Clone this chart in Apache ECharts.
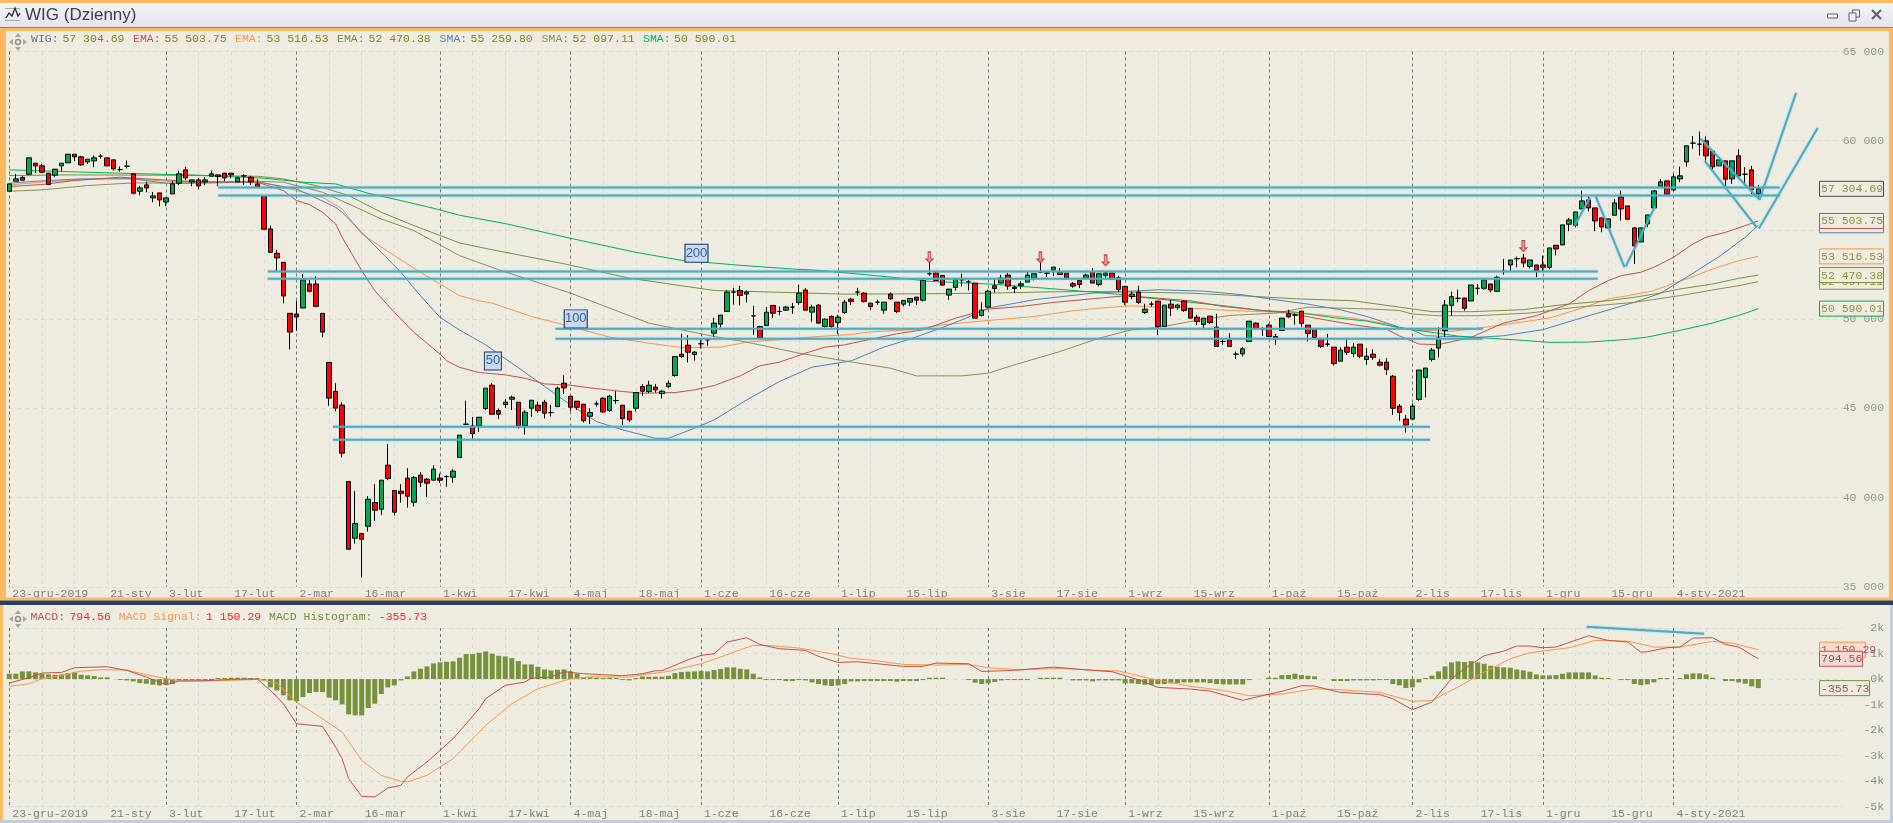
<!DOCTYPE html>
<html><head><meta charset="utf-8"><title>WIG (Dzienny)</title>
<style>html,body{margin:0;padding:0;background:#EEECE1;overflow:hidden}#c{width:1893px;height:823px}</style>
<script src="https://cdn.jsdelivr.net/npm/echarts@6/dist/echarts.min.js"></script>
</head><body><div id="c"></div>
<script>
const opens=[57170,57731,57936,58123,58740,58591,58179,58067,58591,58759,
59245,59096,58815,58871,59133,59040,58927,58385,58572,58142,
57170,57525,56796,57076,56571,57020,57618,58366,57693,57805,
57693,58011,58086,58179,58179,57693,58030,57955,57581,56870,
55056,53691,53186,50325,50288,50625,51971,51971,50325,47576,
45950,45183,40901,37722,37983,38395,39723,39348,41817,40396,
40358,41088,39741,41256,41031,40975,41088,41181,41144,42247,
44110,44016,44016,44989,46298,44877,45213,45512,45344,44035,
45008,45176,45344,44764,45101,46410,45681,45400,45232,44559,
45251,45569,44877,45438,45176,44839,45008,46223,45942,46186,
45830,46223,46840,48037,48542,48018,48617,48841,49215,49720,
50431,51515,51609,51403,50187,49589,49645,50767,50431,50505,
50674,50935,51627,50393,50786,49589,50150,49813,50374,51122,
51515,51459,50898,50954,50505,51403,50954,50842,50954,51235,
51066,52544,52581,52450,51347,51777,52207,52095,52020,50206,
50674,51870,52020,52469,51796,51889,52076,52301,52637,52581,
52768,52656,52581,51983,52170,52319,52656,51945,52450,52581,
52319,51833,51272,51515,50374,50842,51010,49589,50842,50655,
51010,50599,50113,49701,50169,49552,48748,48822,48037,48056,
48748,49776,49421,49664,48878,49365,50300,50225,50449,49664,
49402,48897,48598,48430,47644,48430,48074,48598,47738,48037,
47588,47588,46802,45127,44398,44398,45501,46735,47745,48381,
49353,50774,51167,51186,51017,51728,51728,51971,51560,52681,
53037,53392,53430,52962,53037,53037,52906,54140,54159,55318,
55262,56179,56683,56235,55673,55113,55823,56852,56347,55113,
54327,55337,56235,57450,57749,57244,57862,58815,59862,59806,
59993,59414,58591,58871,57861,59152,58123,58366,57020];
const closes=[57581,57862,57787,59040,58591,58236,57544,58404,58740,59245,
59096,58647,58965,59040,59133,58591,58422,58385,58572,57057,
57357,57357,56908,56683,56796,57581,58142,57918,57805,57469,
57805,58142,57992,57918,58086,57918,58030,57693,57413,55038,
53747,53430,51298,49278,50120,52195,51560,50718,49278,45576,
45014,42490,37104,38544,37665,39910,39292,40975,41069,39180,
40227,40078,41125,40863,40807,41592,40975,41181,41480,43500,
44110,43586,44503,46130,44671,44671,45344,45625,44016,44783,
45456,44877,44727,44764,46130,46148,45064,45064,44316,44764,
45251,44802,45681,45438,44428,44353,45886,45961,46298,46036,
45961,46410,47906,47906,48149,48149,48617,48841,49776,50225,
51515,51515,51328,51515,50187,48935,50393,50337,50431,50674,
50674,51459,50505,50674,49776,50000,49589,50113,50954,50991,
51515,50991,50711,50954,50954,51141,50431,51048,51160,51066,
52170,52544,52170,51908,51683,52244,52207,52095,50057,50505,
51571,51721,52301,51852,51721,51983,52469,52544,52637,52581,
52918,52506,52301,51852,51945,52469,52020,52544,52581,52244,
51665,50954,51403,50935,50561,50842,49589,50786,50618,50786,
50487,50057,49870,50057,49813,48467,48748,48467,48037,48336,
49888,49496,49421,49028,49028,50057,50131,50225,49757,49196,
48972,48467,48598,47513,48261,48149,48430,47925,47925,47850,
47420,47177,45008,44771,44061,45127,47146,47259,48268,48942,
50793,51260,51167,50606,51915,51728,52195,51634,52345,52681,
53317,53392,53149,53317,52681,52906,53991,53935,55281,55561,
56010,56627,56235,55505,55169,55618,56515,56178,55599,54103,
55113,55842,57188,57693,57001,57974,58030,59713,59862,59806,
59152,58535,58927,57843,58871,58030,58123,57244,57304.69];
const lows=[57170,57731,57787,58067,58179,58179,57525,57955,58292,58759,
58853,58591,58703,58516,59002,58591,58329,58273,58441,57001,
56945,57113,56553,56328,56328,57020,57506,57805,57450,57282,
57506,58011,57450,57731,57899,57693,57506,57525,57413,55038,
53747,52682,50886,48306,49353,50625,51504,50662,48979,45145,
44828,42247,37104,37422,35515,38096,38694,39031,40975,38993,
39722,39442,39498,40601,40040,40975,40826,40601,40826,42247,
44073,43306,43680,44914,44671,44409,45026,44914,43867,43530,
44540,44764,44428,44540,45101,45812,44839,44914,44203,44129,
45101,44746,44802,45251,44054,44241,44820,45699,45849,45886,
45550,46130,46784,47831,47569,47682,48355,48504,49028,49533,
50431,50805,50767,50935,49122,48935,49645,50075,50225,50468,
50300,50805,50505,49851,49776,49533,49533,49159,50300,50805,
51309,50935,50524,50805,50300,51085,50337,50711,50748,50786,
50991,52431,52170,51908,51085,51609,51833,51609,50057,50150,
50618,51496,52020,51646,51459,51683,52076,52170,52581,52357,
52431,52469,52207,51758,51740,52244,52020,51833,52319,52244,
51515,50805,51122,50842,50300,50692,49122,49589,50187,50524,
50412,50057,49683,49402,49739,48467,48561,48467,47775,47906,
48748,49496,49065,49028,48561,49365,50057,49683,49552,48748,
48972,48392,48467,47401,47644,48000,47869,47813,47439,47719,
47345,46878,44634,44304,43649,44360,45426,45613,47633,47857,
49016,50194,50942,50475,51017,51373,51653,51503,51522,52495,
52719,52906,52906,52850,52345,52681,52794,53579,54159,54926,
55150,56179,56048,54926,54869,55094,55823,55524,55561,53093,
54327,55150,56235,57450,56945,57170,57674,58553,59545,59170,
58797,58292,58591,57450,57581,57955,57487,57020,56740];
const highs=[57581,58142,58030,59040,58740,58703,58179,58404,58740,59245,
59245,59152,58965,59171,59245,59040,58927,58553,58890,58142,
57469,57712,57132,57076,56796,57731,58329,58535,57805,57918,
57955,58329,58086,58179,58179,57992,58123,58030,57843,56870,
55243,53878,53186,50325,51036,52532,52195,52382,50325,47576,
46417,45332,40901,40377,37983,40078,40751,40975,42995,40396,
40751,41649,41200,41424,41088,41817,41349,41250,41592,43500,
45419,44521,44503,46130,46429,44989,45531,45718,45344,44895,
45456,45382,45475,45195,46223,46859,45681,45400,45232,45008,
45419,45625,45756,45961,45176,44839,45886,46354,46541,46373,
46036,46560,47906,49178,49103,48224,48822,48878,50075,50225,
51627,51758,51852,51609,50748,49626,50674,50767,50711,50748,
50898,51927,51740,50805,50842,50038,50206,50244,51085,51197,
51758,51496,50898,51085,50954,51496,50954,51048,51160,51235,
52207,53236,52656,52450,51683,52244,52544,52207,52020,50954,
51646,52301,52488,52581,51870,52114,52675,52544,53236,52675,
52918,52861,52581,52076,52170,52544,52861,52544,52656,52581,
52431,51833,51553,51870,50861,50992,51010,50786,51085,50861,
51048,50599,50244,50057,50169,50300,48935,49215,48187,48430,
49888,49813,49552,49739,49178,50057,50524,50337,50449,49664,
49402,48897,49178,48430,48430,48878,48654,48598,48373,48317,
47756,47813,46859,45239,44622,45276,47146,47259,48381,49540,
51073,51541,51653,51186,51915,51971,52195,51971,52438,53373,
53317,53504,53654,53317,53037,53561,53991,54140,55281,55673,
56010,57207,56870,56235,55673,55618,56740,57207,56347,55150,
55113,55842,57188,57862,57749,58142,58553,59713,60255,60517,
60236,59414,58927,58871,58871,59507,58516,58591,57525];

const ema55=[[0,57431],[5,57543],[10,57768],[17,57955],[21,57861],[29,57693],[38,57674],[42,57207],[44,56646],[46,56421],[48,55991],[50,55337],[51,54589],[54,52719],[56,51597],[59,50381],[62,49259],[66,48044],[67,47670],[69,47296],[72,47008],[76,46877],[79,46690],[82,46372],[86,46297],[89,46148],[94,45942],[97,45849],[102,45886],[105,46036],[108,46279],[112,46821],[115,47382],[118,47588],[122,48093],[125,48429],[128,48560],[132,48878],[136,49177],[140,49402],[145,50056],[150,50561],[155,50711],[160,50935],[166,51141],[171,51309],[176,51178],[181,51028],[186,50711],[191,50524],[196,50337],[201,50000],[206,49682],[211,49439],[213,49065],[216,48605],[219,48570],[224,48979],[229,49783],[234,50194],[239,50849],[242,51597],[245,52158],[247,52438],[250,52625],[252,52906],[255,53466],[258,54215],[260,54589],[263,54869],[266,55243],[268,55503.75]];
const ema53=[[0,57525],[5,57674],[13,57861],[18,57898],[24,57730],[29,57693],[38,57730],[44,57207],[48,56833],[51,56178],[54,54776],[59,53560],[63,52625],[69,51316],[72,51028],[74,50898],[80,50150],[86,49589],[92,48990],[98,48654],[103,48410],[109,48429],[113,48710],[119,48878],[124,49028],[129,49140],[132,49289],[138,49402],[143,49682],[150,49925],[157,50150],[163,50468],[167,50617],[172,50748],[176,50673],[181,50617],[187,50486],[191,50430],[196,50374],[201,50243],[206,50056],[211,49738],[213,49495],[216,49390],[221,49315],[226,49540],[229,49689],[236,50063],[241,50624],[245,51129],[248,51316],[252,51597],[255,52008],[258,52382],[261,52812],[265,53280],[268,53516.53]];
const ema52=[[0,58048],[9,58085],[24,58067],[38,58010],[42,57861],[47,57487],[52,56926],[57,55991],[62,55243],[69,54271],[74,53890],[85,53104],[95,52300],[108,51608],[119,51496],[128,51402],[140,51420],[150,51458],[160,51533],[166,51550],[172,51515],[181,51458],[191,51271],[197,51141],[206,51028],[213,50673],[218,50419],[224,50419],[232,50531],[238,50811],[245,51036],[249,51223],[253,51466],[256,51691],[261,51971],[265,52288],[268,52470.38]];
const sma55=[[0,57618],[4,57730],[11,57861],[19,57861],[24,57618],[29,57618],[38,57693],[44,57300],[50,56272],[51,55991],[54,54869],[57,53747],[60,52625],[63,51316],[66,50100],[69,49390],[73,48560],[81,46503],[86,45194],[90,44259],[94,43792],[99,43324],[101,43324],[105,43885],[108,44353],[113,45475],[118,46503],[123,47307],[129,47662],[134,48429],[138,48878],[143,49532],[146,49963],[150,50617],[157,51085],[166,51458],[171,51552],[176,51646],[183,51571],[189,51365],[193,51141],[199,50842],[204,50524],[208,50150],[213,49551],[215,49390],[217,49072],[225,48979],[229,49072],[235,49409],[240,49970],[245,50512],[249,50942],[253,51447],[257,52345],[262,53504],[266,54589],[268,55259.80]];
const sma52=[[0,57169],[5,57244],[12,57487],[19,57637],[25,57618],[38,57730],[42,57674],[48,57113],[52,56459],[57,55617],[62,54963],[69,53560],[75,52768],[86,51458],[98,49776],[108,49028],[113,48710],[121,48093],[128,47662],[135,47251],[139,46821],[146,46821],[150,46971],[154,47438],[161,48186],[167,48934],[172,49402],[176,49532],[181,49869],[187,50206],[194,50337],[199,50673],[204,50617],[209,50561],[213,50486],[215,50288],[219,50194],[225,50194],[233,50344],[240,50662],[245,50811],[249,50942],[256,51316],[261,51634],[265,51877],[268,52097.11]];
const sma50=[[0,58366],[10,58254],[19,58160],[29,58067],[39,57900],[45,57674],[50,57580],[55,57057],[60,56646],[65,56215],[69,55823],[76,55356],[86,54531],[96,53746],[103,53297],[112,53017],[120,52809],[124,52736],[135,52360],[141,52120],[151,51951],[159,51727],[164,51576],[170,51390],[175,51166],[181,50942],[186,50757],[192,50474],[197,50398],[203,50080],[208,49892],[213,49520],[222,49051],[227,48923],[232,48810],[236,48698],[242,48715],[248,48866],[251,48995],[256,49371],[261,49780],[266,50325],[268,50590.01]];

const macdLine=[[0,-157],[3,52],[5,235],[8,261],[10,444],[15,483],[18,339],[21,78],[24,-222],[26,-78],[30,-65],[34,-13],[38,0],[40,-444],[42,-966],[44,-1749],[48,-1853],[50,-2662],[51,-3119],[52,-3902],[54,-4594],[56,-4620],[58,-4267],[60,-4163],[61,-3837],[64,-3249],[66,-2793],[68,-2336],[70,-1749],[72,-1161],[73,-770],[76,-248],[79,-117],[80,39],[83,78],[85,287],[88,209],[91,170],[94,130],[97,209],[99,326],[100,326],[104,757],[106,927],[108,992],[110,1449],[113,1618],[115,1357],[118,1188],[122,1122],[124,887],[127,652],[130,679],[137,496],[140,496],[142,626],[147,600],[149,300],[154,339],[160,470],[166,339],[169,287],[173,-26],[176,-326],[181,-392],[184,-470],[189,-835],[192,-652],[195,-483],[198,-261],[200,-274],[202,-405],[204,-522],[210,-613],[212,-770],[215,-1201],[218,-900],[221,13],[223,405],[226,914],[229,1096],[231,1292],[233,1292],[235,1227],[237,1253],[242,1697],[245,1514],[248,1449],[250,1057],[251,1070],[254,1227],[256,1253],[258,1605],[261,1618],[263,1357],[265,1253],[268,794.56]];
const macdSignal=[[0,-287],[3,-183],[5,13],[8,144],[11,313],[14,365],[18,352],[21,170],[24,13],[26,-65],[30,-78],[34,-52],[38,-13],[41,-157],[44,-900],[48,-1553],[51,-2075],[54,-3184],[57,-3771],[60,-4006],[61,-4032],[64,-3771],[68,-3119],[73,-1814],[77,-966],[81,-378],[86,13],[89,91],[95,78],[97,170],[101,300],[106,600],[109,861],[112,1148],[114,1318],[117,1305],[121,1214],[126,992],[129,809],[132,744],[137,574],[142,548],[147,574],[150,444],[155,365],[161,418],[165,365],[170,313],[175,13],[181,-287],[186,-444],[190,-652],[194,-600],[195,-587],[200,-378],[203,-405],[210,-522],[215,-874],[218,-835],[222,-313],[226,274],[230,796],[233,1031],[239,1227],[243,1514],[248,1488],[252,1253],[256,1253],[261,1475],[264,1409],[268,1150.29]];
const macdHist=[209,209,300,300,261,209,183,170,183,235,
261,170,144,117,65,65,null,-26,-52,-91,
-157,-183,-222,-248,-222,-196,-52,-52,-39,-26,
-26,-13,39,39,52,52,52,13,13,-52,
-326,-444,-639,-835,-874,-705,-548,-509,-509,-731,
-835,-992,-1383,-1422,-1422,-1135,-966,-587,-326,-248,
-52,104,300,405,496,613,652,679,692,835,
979,979,1031,1083,992,913,887,822,705,574,
574,483,378,339,365,378,300,209,65,65,
52,26,52,39,-26,-52,13,104,91,91,
91,130,235,274,287,300,313,300,352,392,
457,457,405,378,209,65,-13,-26,-26,-78,
-78,-26,-52,-131,-196,-248,-274,-248,-196,-91,
-91,-78,-78,-78,-78,-78,-104,-78,-78,-78,
-13,52,52,52,null,null,null,-13,-144,-196,
-170,-117,-52,-26,-26,-39,-26,null,52,52,
52,52,null,-52,-52,-52,-91,-52,-52,-52,
-52,-170,-170,-196,-222,-222,-196,-196,-170,-157,
-131,-131,-131,-131,-157,-196,-209,-209,-209,-209,
-39,null,null,52,52,157,157,209,157,130,
104,null,null,-78,-78,-78,-52,-52,-52,-52,
-39,-39,-196,-248,-352,-326,-131,26,130,300,
496,652,692,666,705,652,600,522,483,457,
444,378,339,287,183,144,144,157,209,261,
261,261,261,144,52,13,null,-13,-26,-196,
-235,-209,-131,13,13,null,39,183,222,222,
183,52,null,-78,-78,-131,-183,-287,-355.73];

const majorTicks=[0,24,44,66,86,106,127,150,171,193,215,235,255];
const majorLabels=['23-gru-2019','3-lut','2-mar','1-kwi','4-maj','1-cze','1-lip','3-sie','1-wrz','1-paź','2-lis','1-gru','4-sty-2021'];
const minorTicks=[5,10,15,29,34,39,49,54,59,71,76,81,91,96,101,111,116,121,132,137,142,155,160,165,176,181,186,198,203,208,220,225,230,240,245,250,260,265];
const minorLabelTicks=[15,34,54,76,96,116,137,160,181,203,225,245];
const minorLabels=['21-sty','17-lut','16-mar','17-kwi','18-maj','16-cze','15-lip','17-sie','15-wrz','15-paź','17-lis','15-gru'];
const categoryCount=282;

const levelPairs=[[[32,57375],[271.3,57375]],[[32,56926],[271.3,56926]],[[39.6,52664],[243.4,52664]],[[39.6,52271],[243.4,52271]],[[83.7,49466],[225.8,49466]],[[83.7,48906],[225.8,48906]],[[49.6,43970],[217.7,43970]],[[49.6,43240],[217.7,43240]]];
const zigzags=[[[239.9,55260],[242.2,56814]],[[243.1,56887],[247.5,52922]],[[247.7,52961],[252.2,56326]],[[259.1,60123],[268.2,56702],[273.8,62681]],[[259.8,58867],[267.7,55165]],[[268.1,55075],[277.1,60718]]];
const macdTrend=[[241.7,2051],[259.7,1777]];
const arrowMarks=[[141,53466],[158,53466],[168,53297],[232,54094]];
const periodTags=[[74.1,47660,'50'],[86.8,50016,'100'],[105.3,53690,'200']];

const lastVals=[['57 304.69',57304.69,'#4A4A4A'],['55 259.80',55259.80,'#4F81BD'],['55 503.75',55503.75,'#C0504D'],['53 516.53',53516.53,'#F79646'],['52 097.11',52097.11,'#948A54'],['52 470.38',52470.38,'#76923C'],['50 590.01',50590.01,'#00B050']];
const macdVals=[['1 150.29',1150.29,'#F79646','#F7DCCB',46],['794.56',794.56,'#C0504D','#F5D9D6',43],['-355.73',-355.73,'#76923C','#EEECE1',50]];

const MONO='"Liberation Mono",monospace';
const cats=[];for(let i=0;i<categoryCount;i++)cats.push('');
majorTicks.forEach((t,k)=>cats[t]=majorLabels[k]);
minorLabelTicks.forEach((t,k)=>cats[t]=minorLabels[k]);
const GRIDC='#D9D8D2',MAJC='#757575';
const minorSet=new Set(minorTicks),majorSet=new Set(majorTicks);

function catAxis(grid,withLabels,isMajor){
 return {type:'category',gridIndex:grid,data:cats,boundaryGap:false,position:isMajor?'top':'bottom',
  axisLine:{show:false},axisTick:{show:false},
  axisLabel:{show:withLabels,interval:(i,v)=>v!=='',align:'left',margin:1,color:'#808080',fontFamily:MONO,fontSize:11.5,padding:[0,0,0,3],lineHeight:12},
  splitLine:{show:true,interval:(i)=>isMajor?majorSet.has(i):minorSet.has(i),lineStyle:{color:isMajor?MAJC:GRIDC,type:isMajor?[3,3]:[4,4],width:1}}};
}
function valX(grid){return {type:'value',gridIndex:grid,min:0,max:categoryCount-1,show:false,splitLine:{show:false}};}
function ln(name,d,color,xi,yi,z,w){return {name,type:'line',data:d,xAxisIndex:xi,yAxisIndex:yi,showSymbol:false,symbol:'none',silent:true,z:z||1,
 lineStyle:{color,width:w||1},clip:false};}
function anno(d,xi,yi){const s=ln('',d,'#4BACC6',xi,yi,5,2);s.lineStyle.shadowColor='rgba(75,172,198,0.55)';s.lineStyle.shadowBlur=2;return s;}

const series=[
 ln('EMA',ema53,'#F79646',2,0,1),ln('EMA',ema52,'#76923C',2,0,1),ln('SMA',sma55,'#4F81BD',2,0,1),ln('SMA',sma52,'#948A54',2,0,1),ln('SMA',sma50,'#00B050',2,0,1),ln('EMA',ema55,'#C0504D',2,0,1),
 {name:'WIG',type:'candlestick',xAxisIndex:0,yAxisIndex:0,barWidth:5,z:3,silent:true,clip:false,
  data:opens.map((o,i)=>[o,closes[i],lows[i],highs[i]]),
  itemStyle:{color:'#00A651',color0:'#FF0000',borderColor:'#000',borderColor0:'#000',borderColorDoji:'#000',borderWidth:1}},
 {name:'MACD Histogram',type:'bar',xAxisIndex:3,yAxisIndex:1,data:macdHist,barWidth:5,barMinHeight:1,itemStyle:{color:'#76923C'},silent:true,z:1},
 ln('MACD Signal',macdSignal,'#F79646',5,1,2),ln('MACD',macdLine,'#C0504D',5,1,3),
 anno(macdTrend,5,1),
 {type:'scatter',xAxisIndex:2,yAxisIndex:0,data:arrowMarks,symbol:'path://M3,0 L7,0 L7,16 L10,16 L5,24 L0,16 L3,16 Z',symbolSize:[7,11],silent:true,z:6,
  itemStyle:{color:'#E8838A',borderColor:'#B22222',borderWidth:1}},
 {type:'scatter',xAxisIndex:2,yAxisIndex:0,data:periodTags,symbol:'rect',symbolSize:[17,18],silent:true,z:7,
  itemStyle:{color:'#C6D9F1',borderColor:'#1F3864',borderWidth:1,opacity:1},
  label:{show:true,position:'inside',formatter:p=>p.value[2],color:'#3B5F9E',fontFamily:'"Liberation Sans",sans-serif',fontSize:13}}
];
levelPairs.concat(zigzags).forEach(d=>series.push(anno(d,2,0)));
series.find(s=>s.data===periodTags).symbolSize=(v)=>v[2].length>2?[23,18]:[17,18];

const chart=echarts.init(document.getElementById('c'),null,{renderer:'canvas',width:1893,height:823});
chart.setOption({animation:false,backgroundColor:'#EEECE1',
 grid:[{left:9.3,right:49.9,top:51.5,height:535.3},{left:9.3,right:49.9,top:628,height:178.7}],
 xAxis:[catAxis(0,true,false),catAxis(0,false,true),valX(0),catAxis(1,true,false),catAxis(1,false,true),valX(1)],
 yAxis:[
  {type:'value',gridIndex:0,position:'right',min:35000,max:65000,interval:5000,axisLine:{show:false},axisTick:{show:false},
   splitLine:{lineStyle:{color:GRIDC,type:[4,4]}},
   axisLabel:{align:'right',margin:41,color:'#9A9A92',fontFamily:MONO,fontSize:11.5,formatter:v=>String(v).replace(/(\d\d)(\d{3})/,'$1 $2')}},
  {type:'value',gridIndex:1,position:'right',min:-5000,max:2000,interval:1000,axisLine:{show:false},axisTick:{show:false},
   splitLine:{lineStyle:{color:GRIDC,type:[4,4]}},
   axisLabel:{align:'right',margin:41,color:'#8E8E8E',fontFamily:MONO,fontSize:11.5,formatter:v=>(v/1000)+'k'}}],
 series});

/* window chrome, legends and value boxes */
const el=[];
const R=(x,y,w,h,fill,z)=>el.push({type:'rect',shape:{x,y,width:w,height:h},style:{fill},z:z||50,silent:true});
const T=(x,y,text,fill,font,z,align)=>el.push({type:'text',x,y,style:{text,fill,font:font||('11.5px '+MONO),verticalAlign:'middle',align:align||'left'},z:z||60,silent:true});
const P=(pts,stroke,lw,fill)=>el.push({type:fill?'polygon':'polyline',shape:{points:pts},style:fill?{fill}:{stroke,lineWidth:lw||1,fill:null},z:60,silent:true});
const ORANGE='#FFB862';
el.push({type:'rect',shape:{x:0,y:3,width:1893,height:24},style:{fill:{type:'linear',x:0,y:0,x2:0,y2:1,colorStops:[{offset:0,color:'#F3F4F7'},{offset:1,color:'#E2E4EA'}]}},z:50,silent:true});
R(0,0,1893,3,ORANGE);R(0,27,1893,1,'#7E8288');R(0,28,1893,3,ORANGE);
R(0,28,6,572,ORANGE);R(1889,28,4,572,ORANGE);R(0,597.5,1893,3,ORANGE);R(0,600.5,1893,4.5,'#2B3F5E');
R(0,605,3,215,ORANGE);R(0,820,1893,3,'#C5CCD9');R(1890,605,3,215,'#C5CCD9');
T(25,15,'WIG (Dzienny)','#3B404C','17px "Liberation Sans",sans-serif');
P([[6,18],[9,13],[12,16],[15,8],[18,16],[20,13]],'#2A2A2A',1.3);
R(5,8,15,1,'#A8A8A8',55);R(5,20,15,1,'#A8A8A8',55);
el.push({type:'rect',shape:{x:1827.5,y:14,width:10,height:4},style:{fill:'#F2F3F6',stroke:'#5A6270',lineWidth:1},z:60,silent:true});
el.push({type:'rect',shape:{x:1852.5,y:10,width:7,height:7},style:{fill:'#F2F3F6',stroke:'#5A6270',lineWidth:1},z:60,silent:true});
el.push({type:'rect',shape:{x:1849,y:13,width:7,height:8},style:{fill:'#F2F3F6',stroke:'#5A6270',lineWidth:1},z:61,silent:true});
P([[1872,10],[1881,19]],'#5A6270',2.2);P([[1881,10],[1872,19]],'#5A6270',2.2);
function nav(cx,cy){
 el.push({type:'circle',shape:{cx,cy,r:2.5},style:{fill:'#EEECE1',stroke:'#8E8E8E',lineWidth:1.5},z:60,silent:true});
 P([[cx-3,cy-5],[cx+3,cy-5],[cx,cy-9]],null,1,'#A5A5A5');P([[cx-3,cy+5],[cx+3,cy+5],[cx,cy+9]],null,1,'#A5A5A5');
 P([[cx-5,cy-3],[cx-5,cy+3],[cx-9,cy]],null,1,'#A5A5A5');P([[cx+5,cy-3],[cx+5,cy+3],[cx+9,cy]],null,1,'#A5A5A5');
}
nav(18,42);nav(18,619);
const VALC='#7C8C22';
[[31,'WIG:','#6B7285',62.4,'57 304.69'],[133,'EMA:','#C0504D',164.5,'55 503.75'],[235,'EMA:','#F79646',266.5,'53 516.53'],[337,'EMA:','#76923C',368.6,'52 470.38'],[439.6,'SMA:','#4F81BD',470.6,'55 259.80'],[541.6,'SMA:','#948A54',572.6,'52 097.11'],[643,'SMA:','#00B050',674,'50 590.01']]
 .forEach(a=>{T(a[0],39,a[1],a[2]);T(a[3],39,a[4],VALC);});
[[30.6,'MACD:','#C0504D',69.4,'794.56'],[118.8,'MACD Signal:','#F79646',206,'1 150.29'],[269,'MACD Histogram:','#76923C',378.8,'-355.73']]
 .forEach(a=>{T(a[0],616.7,a[1],a[2]);T(a[3],616.7,a[4],'#FF2020');});
const yPix=(v,g)=>chart.convertToPixel({xAxisIndex:g?5:2,yAxisIndex:g},[0,v])[1];
lastVals.forEach((a,k)=>{const y=yPix(a[1],0);
 el.push({type:'rect',shape:{x:1819.5,y:y-7.5,width:64,height:15},style:{fill:'#EEECE1',stroke:a[2],lineWidth:1},z:70+k*2,silent:true});
 T(1821,y+0.5,a[0],'#8D9440',null,71+k*2);});
macdVals.forEach((a,k)=>{const y=yPix(a[1],1);
 el.push({type:'rect',shape:{x:1819.5,y:y-7.5,width:a[4],height:15},style:{fill:a[3],stroke:a[2],lineWidth:1},z:70+k*2,silent:true});
 T(1821,y+0.5,a[0],'#A0525A',null,71+k*2);});
chart.setOption({graphic:{elements:el}});
</script></body></html>
